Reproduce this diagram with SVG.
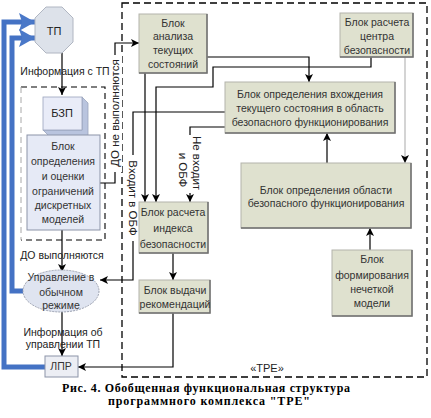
<svg xmlns="http://www.w3.org/2000/svg" width="431" height="418" viewBox="0 0 431 418">
<style>
text{font-family:"Liberation Sans",Arial,sans-serif;font-size:10.5px;fill:#333;text-anchor:middle}
.lbl{font-size:10.5px;fill:#222}
.rot{font-size:11.5px;fill:#222}
.cap{font-family:"Liberation Serif","Times New Roman",serif;font-weight:bold;font-size:12px;fill:#000}
.blk{fill:#dfe1cf;stroke:#b4b4ac;stroke-width:1}
.sh{fill:none;stroke:#6f6f6f;stroke-width:1.5}
.ln{fill:none;stroke:#000;stroke-width:1.2}
.gl{fill:none;stroke:#b8b8b8;stroke-width:1.2}
.blue{fill:none;stroke:#4472c4;stroke-width:5}
</style>
<defs>
<marker id="ar" viewBox="0 0 8 8" refX="8" refY="4" markerWidth="8" markerHeight="8" markerUnits="userSpaceOnUse" orient="auto">
<path d="M0,0 L8,4 L0,8 L2,4 Z" fill="#000"/>
</marker>
<marker id="bar" viewBox="0 0 16 18" refX="16" refY="9" markerWidth="16" markerHeight="18" markerUnits="userSpaceOnUse" orient="auto">
<path d="M0,0 L16,9 L0,18 L3,9 Z" fill="#4a78c8"/>
</marker>
</defs>
<rect width="431" height="418" fill="#fff"/>

<g id="frames">
<rect x="122" y="3" width="305" height="374" fill="none" stroke="#000" stroke-width="1.3" stroke-dasharray="7 4"/>
<path d="M21,87 H105 V240 H21" fill="none" stroke="#000" stroke-width="1.1" stroke-dasharray="6 4"/>
<path d="M21,87 V240" fill="none" stroke="#a8a8a8" stroke-width="1" stroke-dasharray="6 4"/>
<text x="267" y="372" class="lbl" style="font-size:11px">«TPE»</text>
</g>

<g id="connectors">
<path class="blue" d="M45,367 H4 V22 H35" marker-end="url(#bar)"/>
<path class="blue" d="M23,291 H12 V38 H35" marker-end="url(#bar)"/>
<path class="ln" d="M62,53 V95" marker-end="url(#ar)"/>
<path class="ln" d="M62,230 V272" marker-end="url(#ar)"/>
<path class="ln" d="M62,312 V356" marker-end="url(#ar)"/>
<path class="ln" d="M100,183 H115 V43 H139" marker-end="url(#ar)"/>
<path class="ln" d="M225,112 H133 V280 H100" marker-end="url(#ar)"/>
<path class="ln" d="M225,127 H190 V202" marker-end="url(#ar)"/>
<path class="ln" d="M145,73 V202" marker-end="url(#ar)"/>
<path class="ln" d="M207,57 H309 V82" marker-end="url(#ar)"/>
<path class="ln" d="M371,57 V67 H213 V87 H156 V202" marker-end="url(#ar)"/>
<path class="gl" d="M405,57 V163" marker-end="url(#ar)"/>
<path class="ln" d="M327,163 V133" marker-end="url(#ar)"/>
<path class="ln" d="M370,250 V228" marker-end="url(#ar)"/>
<path class="ln" d="M173,253 V280" marker-end="url(#ar)"/>
<path class="ln" d="M173,313 V367 H78" marker-end="url(#ar)"/>
<rect x="109" y="55" width="13" height="117" fill="#fff"/>
<text class="rot" transform="translate(119,113) rotate(-90)">ДО не выполняются</text>
<rect x="126" y="155" width="14" height="86" fill="#fff"/>
<text class="rot" transform="translate(129,198) rotate(90)">Входит в ОБФ</text>
<rect x="178" y="135" width="24" height="58" fill="#fff"/>
<text class="rot" transform="translate(193,163) rotate(90)">Не входит</text>
<text class="rot" transform="translate(179,170) rotate(90)">и ОБФ</text>
<text x="65" y="75" class="lbl">Информация с ТП</text>
<text x="62" y="259" class="lbl">ДО выполняются</text>
<text x="63" y="336" class="lbl">Информация об</text>
<text x="63" y="348" class="lbl">управлении ТП</text>
</g>

<g id="tp">
<polygon points="46,7 62,7 73,18 73,42 62,53 46,53 35,42 35,18" fill="#dde2ea" stroke="#b0b6c2"/>
<text x="54" y="35" class="lbl" style="font-size:11px">ТП</text>
</g>

<g id="bzp">
<polygon points="82,97 88,103 88,136 49,136 43,130 82,130" fill="#b9c4de" stroke="#9aa4bc" stroke-width="0.8"/>
<rect x="43" y="97" width="39" height="33" fill="#e9ecf8" stroke="#9aa4bc" stroke-width="0.8"/>
<text x="62" y="117" class="lbl" style="font-size:11px">БЗП</text>
</g>

<g id="dm">
<rect x="27" y="135" width="73" height="95" fill="#e6eaf6" stroke="#8c94a8"/>
<text x="63" y="150">Блок</text>
<text x="63" y="165">определения</text>
<text x="63" y="180">и оценки</text>
<text x="63" y="195">ограничений</text>
<text x="63" y="209">дискретных</text>
<text x="63" y="223">моделей</text>
</g>

<g id="ctrl">
<ellipse cx="61" cy="291" rx="38" ry="21" fill="#dfe4f0" stroke="#9aa0b0" stroke-dasharray="2 1"/>
<text x="61" y="281">Управление в</text>
<text x="61" y="296">обычном</text>
<text x="61" y="309">режиме</text>
</g>

<g id="lpr">
<rect x="45" y="356" width="33" height="21" fill="#eceef4" stroke="#8c94a8"/>
<text x="61" y="370">ЛПР</text>
</g>

<g id="analysis">
<rect class="blk" x="139" y="14" width="68" height="59"/>
<path class="sh" d="M207,14 V73 H139"/>
<text x="173" y="27">Блок</text>
<text x="173" y="40">анализа</text>
<text x="173" y="54">текущих</text>
<text x="173" y="68">состояний</text>
</g>

<g id="center">
<rect class="blk" x="340" y="13" width="73" height="44"/>
<path class="sh" d="M413,13 V57 H340"/>
<text x="377" y="26">Блок расчета</text>
<text x="377" y="40">центра</text>
<text x="377" y="54">безопасности</text>
</g>

<g id="entry">
<rect class="blk" x="225" y="82" width="170" height="51"/>
<path class="sh" d="M395,82 V133 H225"/>
<text x="310" y="98">Блок определения вхождения</text>
<text x="310" y="112">текущего состояния в область</text>
<text x="310" y="126">безопасного функционирования</text>
</g>

<g id="index">
<rect class="blk" x="139" y="202" width="69" height="51"/>
<path class="sh" d="M208,202 V253 H139"/>
<text x="173" y="216">Блок расчета</text>
<text x="173" y="232">индекса</text>
<text x="173" y="248">безопасности</text>
</g>

<g id="region">
<rect class="blk" x="241" y="163" width="170" height="65"/>
<path class="sh" d="M411,163 V228 H241"/>
<text x="326" y="194">Блок определения области</text>
<text x="326" y="207">безопасного функционирования</text>
</g>

<g id="recommend">
<rect class="blk" x="139" y="280" width="71" height="33"/>
<path class="sh" d="M210,280 V313 H139"/>
<text x="175" y="294">Блок выдачи</text>
<text x="175" y="308">рекомендаций</text>
</g>

<g id="fuzzy">
<rect class="blk" x="332" y="250" width="80" height="66"/>
<path class="sh" d="M412,250 V316 H332"/>
<text x="372" y="263">Блок</text>
<text x="372" y="279">формирования</text>
<text x="372" y="293">нечеткой</text>
<text x="372" y="307">модели</text>
</g>

<g id="caption">
<text x="206" y="392" class="cap" textLength="288" lengthAdjust="spacing">Рис. 4. Обобщенная функциональная структура</text>
<text x="209" y="405" class="cap" textLength="202" lengthAdjust="spacing">программного комплекса "TPE"</text>
</g>
</svg>
